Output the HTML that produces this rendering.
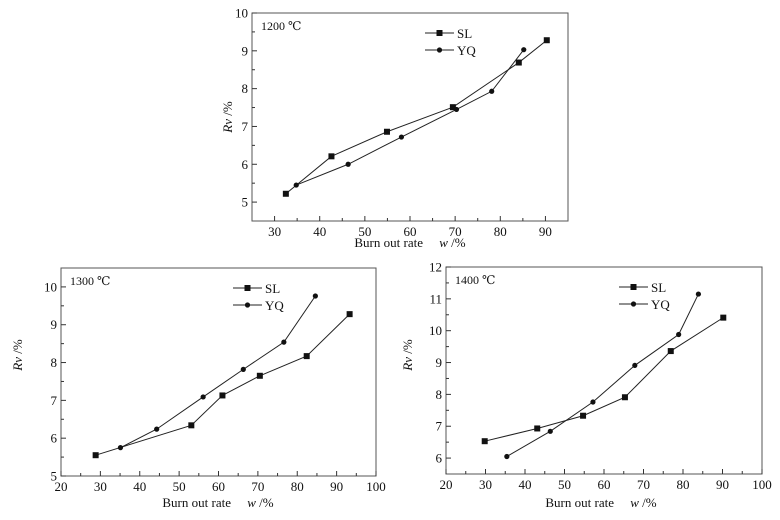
<!DOCTYPE html>
<html><head><meta charset="utf-8"><style>
body{margin:0;background:#fff;}
svg text{font-family:"Liberation Serif","DejaVu Serif",serif;fill:#111;}
</style></head><body>
<svg id="c" width="780" height="515" xmlns="http://www.w3.org/2000/svg"></svg>
<script>
const temps = ["1200 ℃","1300 ℃","1400 ℃"];
const sl1X = [32.5,42.6,54.9,69.5,84.1,90.3];
const sl1Y = [5.22,6.21,6.86,7.51,8.69,9.28];
const yq1X = [34.8,46.3,58.1,70.3,78.1,85.2];
const yq1Y = [5.45,6.0,6.72,7.45,7.93,9.03];
const sl2X = [28.8,53.1,61,70.5,82.4,93.3];
const sl2Y = [5.55,6.34,7.13,7.65,8.17,9.28];
const yq2X = [35.1,44.3,56.1,66.3,76.6,84.6];
const yq2Y = [5.75,6.24,7.09,7.82,8.54,9.76];
const sl3X = [29.8,43.1,54.7,65.3,76.9,90.2];
const sl3Y = [6.53,6.93,7.33,7.91,9.36,10.41];
const yq3X = [35.4,46.4,57.2,67.8,78.9,83.9];
const yq3Y = [6.05,6.84,7.76,8.91,9.88,11.15];
const xTicks1 = [30,40,50,60,70,80,90];
const yTicks1 = [5,6,7,8,9,10];
const xTicks23 = [20,30,40,50,60,70,80,90,100];
const yTicks2 = [5,6,7,8,9,10];
const yTicks3 = [6,7,8,9,10,11,12];

const svg=document.getElementById('c');
const NS='http://www.w3.org/2000/svg';
function el(t,a,p){const e=document.createElementNS(NS,t);for(const k in a)e.setAttribute(k,a[k]);(p||svg).appendChild(e);return e;}

const panels=[
 {L:252,R:568,T:13,B:221,x0:25,x1:95,y0:4.5,y1:10,xt:xTicks1,yt:yTicks1,sl:[sl1X,sl1Y],yq:[yq1X,yq1Y],t:temps[0],lg:[425,33],ylab:[232,117],xlab:[410,247]},
 {L:61,R:376,T:268,B:476,x0:20,x1:100,y0:5,y1:10.5,xt:xTicks23,yt:yTicks2,sl:[sl2X,sl2Y],yq:[yq2X,yq2Y],t:temps[1],lg:[233,288],ylab:[22,355],xlab:[218,507]},
 {L:446,R:762,T:267,B:474,x0:20,x1:100,y0:5.5,y1:12,xt:xTicks23,yt:yTicks3,sl:[sl3X,sl3Y],yq:[yq3X,yq3Y],t:temps[2],lg:[619,287],ylab:[412,355],xlab:[601,507]}
];
panels.forEach((p,i)=>{
 const g=el('g',{});
 
 
 const sx=v=>p.L+(v-p.x0)/(p.x1-p.x0)*(p.R-p.L);
 const sy=v=>p.B-(v-p.y0)/(p.y1-p.y0)*(p.B-p.T);
 const fr=el('rect',{x:p.L,y:p.T,width:p.R-p.L,height:p.B-p.T,fill:'none',stroke:'#555','stroke-width':1},g);
 
 
 p.xt.forEach((v,k)=>{
  const x=sx(v);
  el('line',{x1:x,y1:p.B,x2:x,y2:p.B-5,stroke:'#333'},g);
  if(k<p.xt.length-1){const m=sx(v+5);el('line',{x1:m,y1:p.B,x2:m,y2:p.B-3,stroke:'#333'},g);}
  const t=el('text',{x:x,y:p.B+15,'font-size':13,'text-anchor':'middle'},g);t.textContent=v;
  
 });
 p.yt.forEach((v,k)=>{
  const y=sy(v);
  el('line',{x1:p.L,y1:y,x2:p.L+5,y2:y,stroke:'#333'},g);
  const m=sy(v+0.5); if(m>p.T+1) el('line',{x1:p.L,y1:m,x2:p.L+3,y2:m,stroke:'#333'},g);
  const t=el('text',{x:p.L-4,y:y+4.5,'font-size':13,'text-anchor':'end'},g);t.textContent=v;
  
 });
 [['sl',p.sl,'sq'],['yq',p.yq,'ci']].forEach(([nm,s,mk])=>{
  const pts=s[0].map((v,k)=>sx(v)+','+sy(s[1][k])).join(' ');
  const pl=el('polyline',{points:pts,fill:'none',stroke:'#222','stroke-width':1},g);
  
  s[0].forEach((v,k)=>{
   let m;
   if(mk==='sq') m=el('rect',{x:sx(v)-3,y:sy(s[1][k])-3,width:6,height:6,fill:'#111'},g);
   else m=el('circle',{cx:sx(v),cy:sy(s[1][k]),r:2.6,fill:'#111'},g);
   
  });
 });
 const tt=el('text',{x:p.L+9,y:p.T+17,'font-size':12},g);tt.textContent=p.t;
 
 [['SL','sq',0],['YQ','ci',17]].forEach(([n,mk,dy])=>{
  const lg=el('g',{},g);
  
  
  const y=p.lg[1]+dy, x=p.lg[0];
  el('line',{x1:x,y1:y,x2:x+29,y2:y,stroke:'#222'},lg);
  if(mk==='sq') el('rect',{x:x+11.5,y:y-3,width:6,height:6,fill:'#111'},lg);
  else el('circle',{cx:x+14.5,cy:y,r:2.6,fill:'#111'},lg);
  const t=el('text',{x:x+32,y:y+5,'font-size':13},lg);t.textContent=n;
 });
 const yl=el('text',{x:0,y:0,'font-size':13,'text-anchor':'middle',transform:`translate(${p.ylab[0]},${p.ylab[1]}) rotate(-90)`},g);
 yl.innerHTML='<tspan font-style="italic">Rv</tspan> /%';
 
 const xl=el('text',{x:p.xlab[0],y:p.xlab[1],'font-size':13,'text-anchor':'middle'},g);
 xl.innerHTML='Burn out rate\u00a0\u00a0\u00a0\u00a0\u00a0<tspan font-style="italic">w</tspan> /%';
 
});
</script>
</body></html>
